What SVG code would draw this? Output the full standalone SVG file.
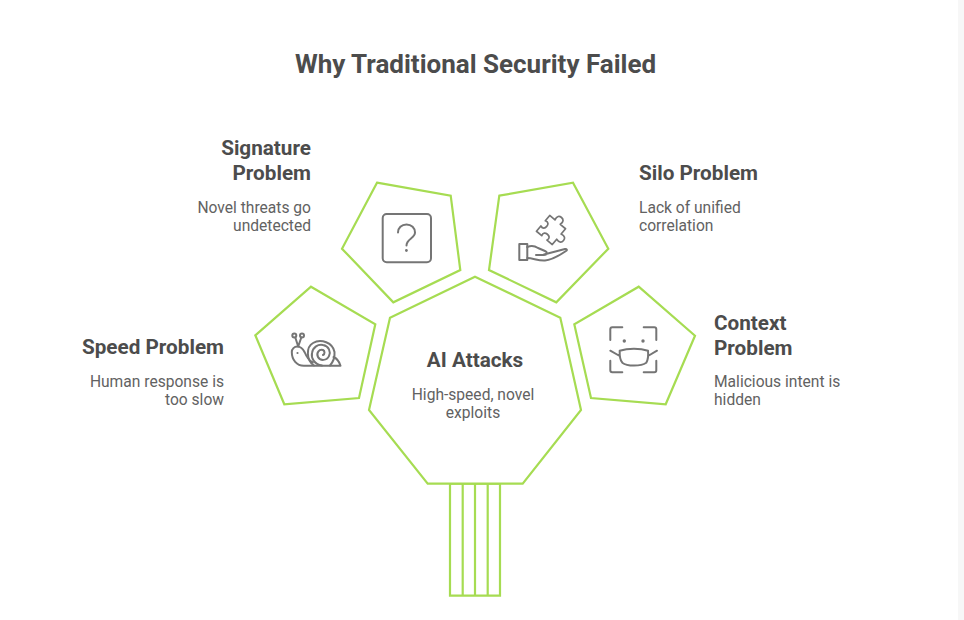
<svg xmlns="http://www.w3.org/2000/svg" width="964" height="620" viewBox="0 0 964 620">
<style>
text{font-family:Roboto,"Liberation Sans",sans-serif}
.t{font-size:26px;font-weight:700;fill:#4c4c4c}
.h{font-size:20.700px;font-weight:700;fill:#4c4c4c}
.b{font-size:15.600px;fill:#626262}
.e{text-anchor:end}.s{text-anchor:start}.m{text-anchor:middle}
.g{fill:#fff;stroke:#a6dc52;stroke-width:2.200;stroke-linejoin:miter}
.i{fill:none;stroke:#757575;stroke-width:2;stroke-linecap:round;stroke-linejoin:round}
.d{fill:#757575}
</style>
<rect width="964" height="620" fill="#fff"/>
<rect x="958" width="6" height="620" fill="#f7f7f7"/>
<text id="title" class="t m" x="475.500" y="73">Why Traditional Security Failed</text>
<g id="connectors">
<path class="g" d="M450 483.700H500V595.700H450Z"/>
<path class="g" d="M462.700 483.700V595.700M475 483.700V595.700M487.700 483.700V595.700"/>
</g>
<g id="node-signature">
<polygon class="g" points="377,182.700 450.700,195.700 460.300,270 393.300,302.300 342,248.700"/>
<rect class="i" x="382.700" y="214" width="48.300" height="48.300" rx="4"/>
<path class="i" d="M398 232.500c0-4.500 3.500-8 8.500-8s8.500 3.500 8.500 8c0 6-8.500 6-8.500 13"/>
<circle class="d" cx="406.400" cy="250.500" r="1.400"/>
<text class="h e" x="311" y="155">Signature</text>
<text class="h e" x="311" y="180">Problem</text>
<text class="b e" x="311" y="212.500">Novel threats go</text>
<text class="b e" x="311" y="231">undetected</text>
</g>
<g id="node-silo">
<polygon class="g" points="499.300,195.700 573,182.700 608.300,248.700 556.300,302.300 489,270"/>
<rect class="i" x="519.300" y="244" width="8" height="16"/>
<path class="i" d="M527.300 247C532 245 535 246 538 248L545 251C548 252.500 547 255 544 255H536M544 254.500L565 249C567 248.800 567.500 250 566 251C560 255 552 260 545 260.500C538 261 533 258 527.300 258"/>
<path class="i" transform="translate(551 230) rotate(40) scale(.86)" d="M-12-12H-4c-1.500-5 1-7 4-7s5.500 2 4 7H12V-4c5-1.500 7 1 7 4s-2 5.500-7 4V12H4c1.500-4-1-5.500-4-5.500s-5.500 1.500-4 5.500H-12V4c4 1.500 5.500-1 5.500-4s-1.500-5.500-5.500-4Z"/>
<text class="h s" x="639" y="180">Silo Problem</text>
<text class="b s" x="639" y="212.500">Lack of unified</text>
<text class="b s" x="639" y="231">correlation</text>
</g>
<g id="node-speed">
<polygon class="g" points="311,286.700 375.300,324.300 359,398 284.300,404.300 255.300,335.300"/>
<circle class="i" cx="294.300" cy="335.500" r="2"/>
<circle class="i" cx="302" cy="335.500" r="2"/>
<path class="i" d="M295.300 337.500L298.200 346.500M301.300 337.500L298.200 346.500"/>
<path class="i" d="M291.800 352c0-3 2.500-5.500 5.500-5.500c4 0 6 3 7.500 6c2 5 4 8 8 10M291.800 352c0 8 5 13.700 12 13.700H340.500C339 361 336 358 333.500 357"/>
<path class="i" d="M314 365.500C306 360 306 347 313 343C321 338 333 343 334.500 352C335 358 333 362 330 365.500M322 365.500C314 364 311 358 312 353C313 347 318 344 323 345C329 346 331 352 329 356C327 361 320 361 318 357C316 353 319 349 323 350C325 351 325 354 323 355"/>
<circle class="d" cx="297.500" cy="353" r="1.100"/>
<text class="h e" x="224" y="354">Speed Problem</text>
<text class="b e" x="224" y="386.500">Human response is</text>
<text class="b e" x="224" y="405">too slow</text>
</g>
<g id="node-context">
<polygon class="g" points="638.700,286.700 695,335.700 665.700,404.300 591,398 574.300,324.300"/>
<path class="i" d="M622.300 327.300H612.300Q610.300 327.300 610.300 329.300V340M643.700 327.300H654.300Q656.300 327.300 656.300 329.300V340M610.300 360.700V370.300Q610.300 372.300 612.300 372.300H622.300M656.300 360.700V370.300Q656.300 372.300 654.300 372.300H643.700"/>
<circle class="d" cx="624.300" cy="341" r="1.700"/>
<circle class="d" cx="643" cy="341" r="1.700"/>
<path class="i" d="M619.700 350.700C628 348 640 348 648 350.700C648.500 356 648 360 646.300 362.700C641 366.500 627 366.500 622.300 362.700C620 360 619.500 356 619.700 350.700ZM610.300 350.700L619.700 356M657 350.700L648 356"/>
<text class="h s" x="714" y="330">Context</text>
<text class="h s" x="714" y="355">Problem</text>
<text class="b s" x="714" y="386.500">Malicious intent is</text>
<text class="b s" x="714" y="405">hidden</text>
</g>
<g id="node-ai">
<polygon class="g" points="475,276.700 560.300,317.700 581,410 522.700,483.700 427.700,483.700 369,410 390,317.700"/>
<text class="h m" x="475" y="367">AI Attacks</text>
<text class="b m" x="473" y="399.500">High-speed, novel</text>
<text class="b m" x="473" y="418">exploits</text>
</g>
</svg>
